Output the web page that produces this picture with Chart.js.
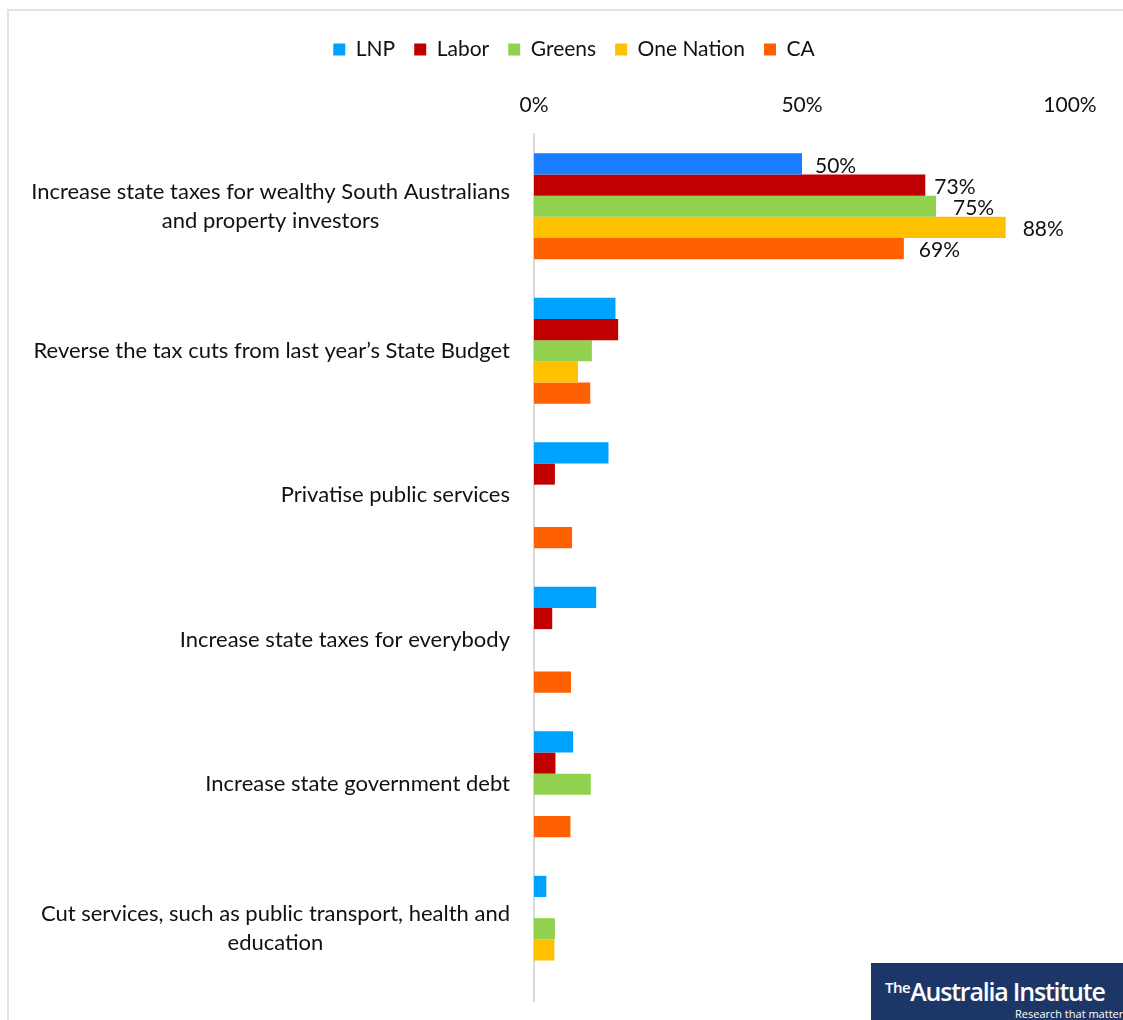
<!DOCTYPE html>
<html>
<head>
<meta charset="utf-8">
<script src="https://cdn.jsdelivr.net/npm/chart.js@4"></script>
<style>
  html, body { margin: 0; padding: 0; background: #fff; }
  #wrap { position: relative; width: 1123px; height: 1020px; overflow: hidden; }
  #frame { position: absolute; left: 7px; top: 9px; width: 1200px; height: 1100px; border: 2px solid #e3e3e3; box-sizing: border-box; }
  #logo { position: absolute; left: 871px; top: 963px; width: 260px; height: 60px; background: #1c3767; color: #fff; font-family: "Open Sans", sans-serif; }
  #logo .name { position: absolute; left: 14px; top: 11px; font-size: 25px; font-weight: 600; letter-spacing: -1.2px; white-space: nowrap; }
  #logo .name sup { font-size: 15px; letter-spacing: -0.5px; vertical-align: 8px; }
  #logo .tag { position: absolute; left: 144px; top: 43px; font-size: 11px; white-space: nowrap; }
</style>
</head>
<body>
<div id="wrap">
  <div id="frame"></div>
  <canvas id="chart" width="1123" height="1020"></canvas>
  <div id="logo"><span class="name"><sup>The</sup>Australia Institute</span><span class="tag">Research that matters</span></div>
</div>
<script>
const categories = [
    ["Increase state taxes for wealthy South Australians", "and property investors"],
    ["Reverse the tax cuts from last year\u2019s State Budget"],
    ["Privatise public services"],
    ["Increase state taxes for everybody"],
    ["Increase state government debt"],
    ["Cut services, such as public transport, health and", "education"]
];

const lnp        = [50, 15.2, 13.9, 11.6, 7.3, 2.3];
const labor      = [73, 15.7, 3.9, 3.4, 4.0, null];
const greens     = [75, 10.8, null, null, 10.6, 3.9];
const oneNation  = [88, 8.2, null, null, null, 3.8];
const ca         = [69, 10.5, 7.1, 6.9, 6.8, null];

const xTicks = [0, 50, 100];

const FONT = "Lato";
const PAD_LEFT = 78;
const AXIS_LEFT = 534;

// lnp first bar is a darker blue in the original
const lnpColors = lnp.map((v, i) => i === 0 ? '#1a7cff' : '#00a2ff');

// value labels only on the first group
const valueLabels = {
    id: 'valueLabels',
    afterDatasetsDraw(chart) {
        const ctx = chart.ctx;
        ctx.save();
        ctx.font = '21px ' + FONT;
        ctx.fillStyle = '#111';
        ctx.textBaseline = 'middle';
        ctx.textAlign = 'left';
        const offs = [13, 9, 17, 17, 15];
        chart.data.datasets.forEach((ds, di) => {
            const bar = chart.getDatasetMeta(di).data[0];
            if (!bar || ds.data[0] == null) return;
            ctx.fillText(Math.round(ds.data[0]) + '%', bar.x + offs[di], bar.y + 2);
        });
        ctx.restore();
    }
};

// category labels, right aligned block, lines centred inside the block
const catLabels = {
    id: 'catLabels',
    afterDraw(chart) {
        const ctx = chart.ctx;
        const y = chart.scales.y;
        ctx.save();
        ctx.font = '22px ' + FONT;
        ctx.fillStyle = '#111';
        ctx.textBaseline = 'middle';
        ctx.textAlign = 'center';
        const right = 510;
        const lh = 29;
        categories.forEach((lines, i) => {
            const cy = y.getPixelForTick(i);
            const w = Math.max(...lines.map(l => ctx.measureText(l).width));
            const cx = right - w / 2;
            lines.forEach((l, j) => {
                ctx.fillText(l, cx, cy + (j - (lines.length - 1) / 2) * lh);
            });
        });
        ctx.restore();
    }
};

const data_bars = {
    labels: categories.map(c => c.join(' ')),
    datasets: [
        { label: 'LNP', data: lnp, backgroundColor: lnpColors },
        { label: 'Labor', data: labor, backgroundColor: '#c00000' },
        { label: 'Greens', data: greens, backgroundColor: '#92d050' },
        { label: 'One Nation', data: oneNation, backgroundColor: '#ffc000' },
        { label: 'CA', data: ca, backgroundColor: '#ff6100' }
    ]
};

const config_bars = {
    type: 'bar',
    data: data_bars,
    options: {
        indexAxis: 'y',
        responsive: false,
        animation: false,
        layout: { padding: { top: 20, left: PAD_LEFT, right: 53, bottom: 19 } },
        datasets: { bar: { categoryPercentage: 0.733, barPercentage: 1.0 } },
        plugins: {
            tooltip: { enabled: false },
            legend: {
                position: 'top',
                labels: {
                    color: '#111',
                    font: { family: FONT, size: 21 },
                    boxWidth: 12,
                    boxHeight: 12,
                    padding: 19,
                    generateLabels(chart) {
                        return chart.data.datasets.map((ds, i) => ({
                            text: ds.label,
                            fillStyle: i === 0 ? '#00a2ff' : ds.backgroundColor,
                            strokeStyle: 'transparent',
                            lineWidth: 0,
                            fontColor: '#111',
                            datasetIndex: i
                        }));
                    }
                }
            }
        },
        scales: {
            x: {
                position: 'top',
                min: 0,
                max: 100,
                afterBuildTicks(s) { s.ticks = xTicks.map(v => ({ value: v })); },
                ticks: {
                    color: '#111',
                    font: { family: FONT, size: 21 },
                    padding: 8,
                    callback: v => v + '%'
                },
                grid: { display: false },
                border: { display: false },
                afterFit(s) { s.height = 64; }
            },
            y: {
                ticks: { display: false },
                grid: { display: false },
                border: { display: true, color: '#d9d9d9', width: 2 },
                afterFit(s) { s.width = AXIS_LEFT - PAD_LEFT; }
            }
        }
    },
    plugins: [valueLabels, catLabels]
};

var BarChart = new Chart(document.getElementById('chart'), config_bars);
</script>
</body>
</html>
